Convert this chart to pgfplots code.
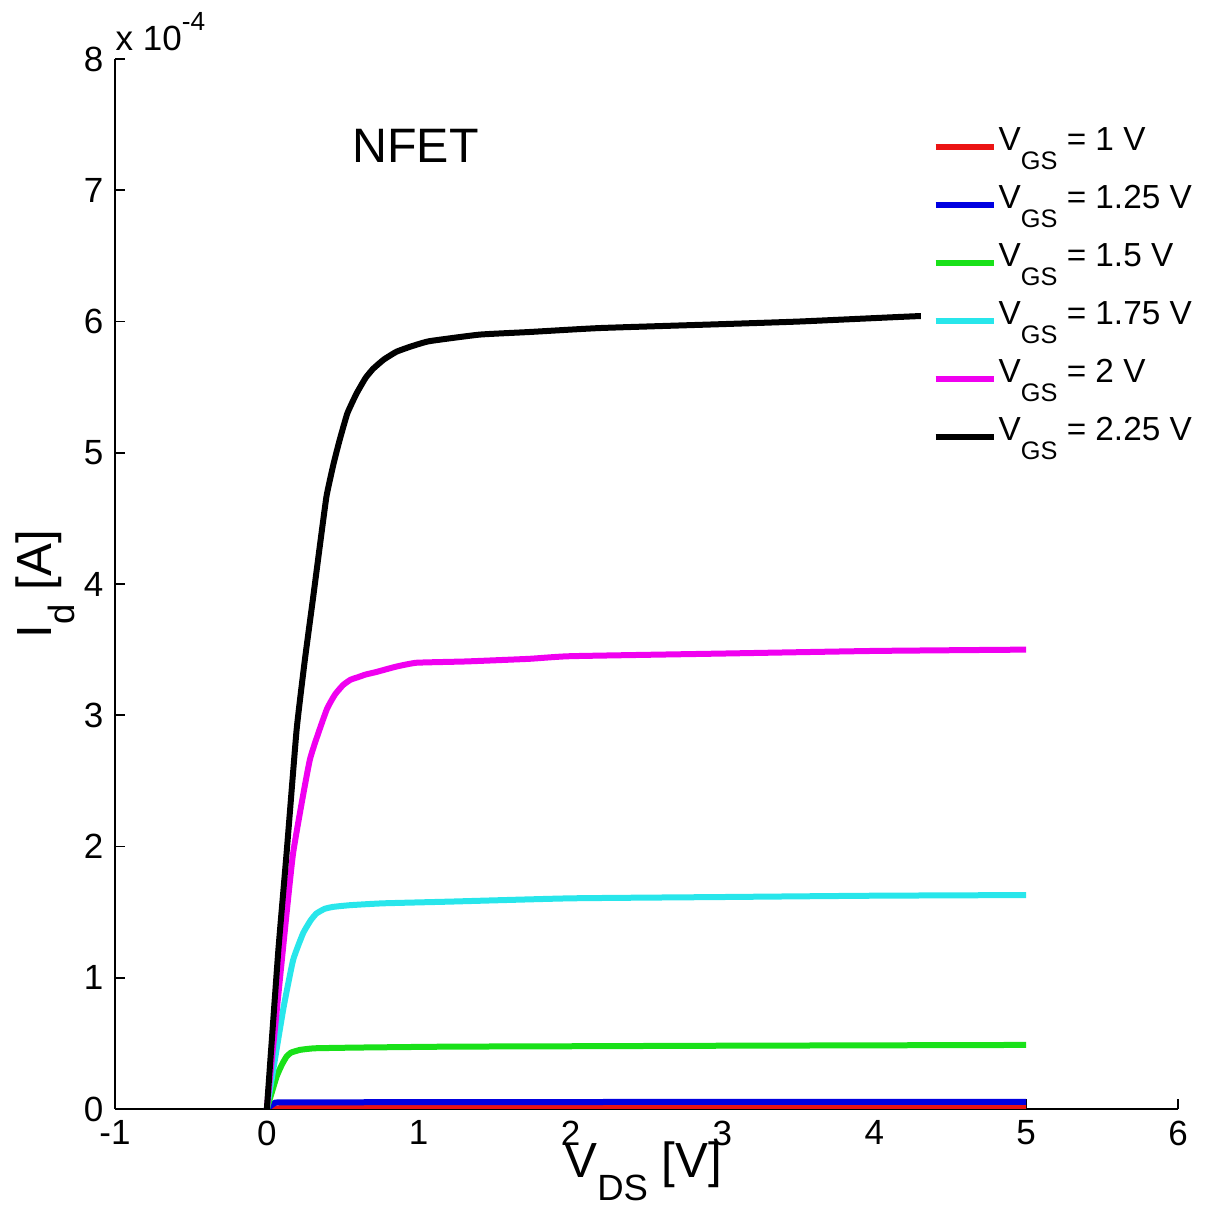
\documentclass[border=0pt]{standalone}
\usepackage{fontspec}
\setmainfont{Liberation Sans}
\usepackage{graphicx}
\usepackage{pgfplots}
\pgfplotsset{compat=1.18}
\newcommand{\msub}[1]{\raisebox{-0.57em}{\scalebox{0.76}{#1}}}
\newcommand{\lsub}[1]{\raisebox{-0.46em}{\scalebox{0.74}{#1}}}
\definecolor{mred}{RGB}{235,20,20}
\definecolor{mblue}{RGB}{0,0,225}
\definecolor{mgreen}{RGB}{25,225,25}
\definecolor{mcyan}{RGB}{40,230,235}
\definecolor{mmag}{RGB}{240,0,240}
\begin{document}
\begin{tikzpicture}
\begin{axis}[
  scale only axis, width=318.9pt, height=315pt,
  xmin=-1, xmax=6, ymin=0, ymax=8,
  xtick={-1,0,...,6}, ytick={0,1,...,8},
  axis x line=bottom, axis y line=left,
  axis line style={-, line width=0.5pt},
  tick align=inside, major tick length=3pt,
  tick style={black, line width=0.5pt},
  tick label style={font=\fontsize{10.5}{12}\selectfont},
  /pgf/number format/assume math mode=true,
  clip mode=individual,
  xlabel={V\lsub{DS} [V]}, ylabel={I\lsub{d} [A]},
  label style={font=\fontsize{14.8}{16}\selectfont},
  xlabel style={at={(axis description cs:0.497,-0.0657)}, anchor=base, inner sep=0pt},
  ylabel style={at={(axis description cs:-0.0593,0.5)}, anchor=base, inner sep=0pt},
  legend cell align=left,
  legend image code/.code={\draw[#1] (0pt,0pt) -- (17.4pt,0pt);},
  legend style={at={(axis cs:4.301,7.634)}, anchor=north west, draw=none, fill=white,
    inner xsep=3.6pt, inner ysep=3pt, font=\fontsize{10}{12}\selectfont,
    row sep=0pt, column sep=0.6pt,
    nodes={inner sep=0pt, text height=9.9pt, text depth=7.5pt}},
  every axis plot/.append style={line width=1.8pt, smooth, tension=0.25, line join=round},
]
\addplot[mred] coordinates {(0,0) (0.1,0.006) (1,0.007) (3,0.008) (5,0.008)};
\addplot[mblue] coordinates {(0,0) (0.05,0.045) (0.1,0.05) (1,0.052) (3,0.054) (5,0.055)};
\addplot[mgreen] coordinates {(0,0) (0.064,0.246) (0.1,0.34) (0.13,0.40) (0.16,0.43) (0.217,0.45) (0.27,0.458) (0.327,0.463) (0.6,0.468) (1.2,0.475) (2,0.478) (3,0.482) (4,0.485) (5,0.488)};
\addplot[mcyan] coordinates {(0,0) (0.107,0.754) (0.173,1.135) (0.239,1.34) (0.29,1.44) (0.327,1.49) (0.38,1.525) (0.437,1.54) (0.55,1.553) (0.766,1.567) (1.205,1.58) (2,1.605) (3,1.615) (4,1.625) (5,1.63)};
\addplot[mmag] coordinates {(0,0) (0.1,1.15) (0.173,1.95) (0.283,2.66) (0.393,3.04) (0.45,3.16) (0.502,3.23) (0.55,3.27) (0.6,3.29) (0.65,3.31) (0.722,3.33) (0.85,3.37) (0.986,3.40) (1.315,3.41) (1.73,3.43) (2,3.45) (3,3.47) (4,3.49) (5,3.50)};
\addplot[black] coordinates {(0,0) (0.075,1.2) (0.13,1.95) (0.196,2.89) (0.25,3.42) (0.305,3.9) (0.35,4.3) (0.393,4.67) (0.44,4.92) (0.48,5.10) (0.53,5.3) (0.59,5.45) (0.65,5.57) (0.70,5.64) (0.77,5.71) (0.854,5.77) (0.95,5.81) (1.07,5.85) (1.4,5.9) (1.73,5.92) (2.19,5.95) (3.0,5.98) (3.51,6.0) (4.27,6.04) (5,6.07)};
\legend{V\msub{GS} = 1 V, V\msub{GS} = 1.25 V, V\msub{GS} = 1.5 V, V\msub{GS} = 1.75 V, V\msub{GS} = 2 V, V\msub{GS} = 2.25 V}
\node[anchor=base west, inner sep=0pt, font=\fontsize{14.5}{16}\selectfont] at (axis cs:0.56,7.21) {NFET};
\node[anchor=base west, inner sep=0pt, font=\fontsize{10.5}{12}\selectfont] at ([yshift=2.7pt]rel axis cs:0,1) {x 10\raisebox{0.55em}{\scalebox{0.75}{-4}}};
\end{axis}
\pgfresetboundingbox
\path[use as bounding box] (-34.5pt,-30pt) rectangle (331.5pt,332.7pt);
\end{tikzpicture}
\end{document}
